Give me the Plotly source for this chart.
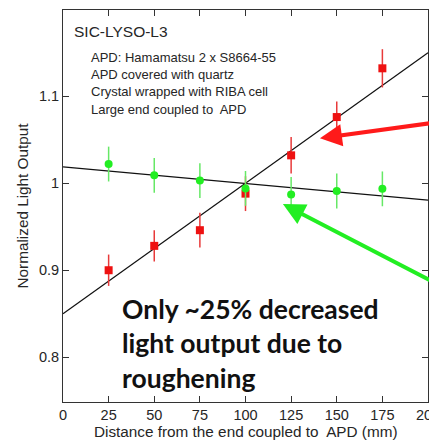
import plotly.graph_objects as go

# Data
distance = [25, 50, 75, 100, 125, 150, 175]
red_values = [0.900, 0.928, 0.946, 0.988, 1.032, 1.076, 1.132]
red_errors = [0.018, 0.018, 0.020, 0.020, 0.021, 0.018, 0.022]
green_values = [1.022, 1.009, 1.003, 0.994, 0.987, 0.991, 0.9935]
green_errors = [0.020, 0.020, 0.020, 0.020, 0.020, 0.020, 0.020]

fit_x = [0, 200]
red_fit_intercept, red_fit_slope = 0.850, 0.0015
green_fit_intercept, green_fit_slope = 1.0187, -0.000191

x_ticks = [0, 25, 50, 75, 100, 125, 150, 175, 200]
y_ticks = [0.8, 0.9, 1.0, 1.1]
y_tick_labels = ["0.8", "0.9", "1", "1.1"]

x_title = "Distance from the end coupled to  APD (mm)"
y_title = "Normalized Light Output"

info_lines = ["APD: Hamamatsu 2 x S8664-55", "APD covered with quartz",
              "Crystal wrapped with RIBA cell", "Large end coupled to  APD"]

RED = "#ee1111"
GREEN = "#22ee22"
TXT = "#262626"

fig = go.Figure()

fig.add_trace(go.Scatter(
    x=fit_x, y=[red_fit_intercept + red_fit_slope * v for v in fit_x],
    mode="lines", line=dict(color="#111111", width=1.2), showlegend=False))
fig.add_trace(go.Scatter(
    x=fit_x, y=[green_fit_intercept + green_fit_slope * v for v in fit_x],
    mode="lines", line=dict(color="#111111", width=1.2), showlegend=False))

fig.add_trace(go.Scatter(
    x=distance, y=red_values, mode="markers",
    marker=dict(symbol="square", size=8, color=RED),
    error_y=dict(type="data", array=red_errors, color="#e83a3a", thickness=1.5, width=0),
    showlegend=False))
fig.add_trace(go.Scatter(
    x=distance, y=green_values, mode="markers",
    marker=dict(symbol="circle", size=8, color=GREEN),
    error_y=dict(type="data", array=green_errors, color="#66e866", thickness=1.5, width=0),
    showlegend=False))

annotations = [
    dict(x=0.025, y=0.946, xref="paper", yref="paper", text="SIC-LYSO-L3",
         showarrow=False, xanchor="left", yanchor="middle",
         font=dict(size=15.5, color=TXT, family="Liberation Sans")),
]
for i, line in enumerate(info_lines):
    annotations.append(dict(
        x=0.072, y=0.880 - i * 0.0443, xref="paper", yref="paper", text=line,
        showarrow=False, xanchor="left", yanchor="middle",
        font=dict(size=13, color=TXT, family="Liberation Sans")))

annotations.append(dict(
    x=0.156, y=0.1505, xref="paper", yref="paper",
    text="<b>Only ~25% decreased<br>light output due to<br>roughening</b>",
    showarrow=False, xanchor="left", yanchor="middle", align="left",
    font=dict(size=26.5, color="#111111", family="Lato"), bgcolor="white"))

# x-axis title
annotations.append(dict(
    x=0.5, y=-0.074, xref="paper", yref="paper", text=x_title,
    showarrow=False, xanchor="center", yanchor="middle",
    font=dict(size=15.3, color=TXT, family="Liberation Sans")))

# arrows
annotations.append(dict(
    x=140.8, y=1.0517, xref="x", yref="y", ax=125, ay=-17,
    showarrow=True, arrowhead=2, arrowsize=1.1, arrowwidth=4, arrowcolor="#ff1a1a", text=""))
annotations.append(dict(
    x=120.5, y=0.976, xref="x", yref="y", ax=170, ay=84,
    showarrow=True, arrowhead=2, arrowsize=1.1, arrowwidth=4, arrowcolor="#22ee22", text=""))

fig.update_layout(
    width=437, height=443,
    margin=dict(l=55, r=17, t=2, b=49),
    plot_bgcolor="white", paper_bgcolor="white",
    annotations=annotations,
    font=dict(family="Liberation Sans", color=TXT, size=14.5),
)
fig.update_xaxes(
    range=[0, 200], tickvals=x_ticks, ticks="inside", ticklen=6, tickcolor="#333",
    showline=True, linecolor="#333", linewidth=1, mirror="ticks", showgrid=False, zeroline=False,
    automargin=False, tickfont=dict(size=14.5))
fig.update_yaxes(
    range=[0.7486, 1.199], tickvals=y_ticks, ticktext=y_tick_labels, ticks="inside", ticklen=6,
    tickcolor="#333", showline=True, linecolor="#333", linewidth=1, mirror="ticks",
    showgrid=False, zeroline=False, automargin=False,
    title=dict(text=y_title, font=dict(size=15.3), standoff=6),
    tickfont=dict(size=14.5))

fig.write_html("out.html")
